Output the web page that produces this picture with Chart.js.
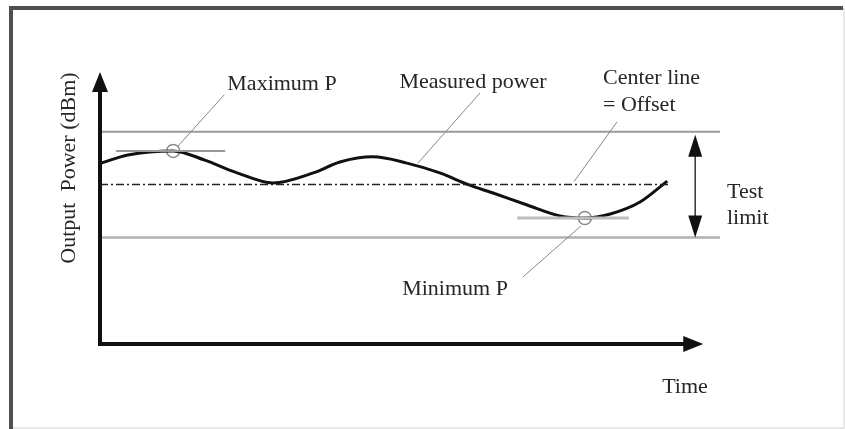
<!DOCTYPE html>
<html lang="en">
<head>
    <meta charset="UTF-8">
    <title>Output power test limit</title>
    <script src="https://cdn.jsdelivr.net/npm/chart.js@4.4.0/dist/chart.umd.min.js"></script>
    <style>
        body { margin: 0; background: #fff; }
        canvas { display: block; }
    </style>
</head>
<body>
    <canvas id="myChart" width="845" height="429"></canvas>
    <script>
        // sketch values, arbitrary units
        var timeValues  = [0.02, 0.45, 1.18, 1.69, 2.18, 2.79, 3.44, 3.87, 4.40, 4.95, 5.48, 5.95, 6.34, 6.89, 7.42, 7.82, 8.23, 8.71, 9.15];
        var powerValues = [6.65, 6.95, 7.10, 6.76, 6.32, 5.92, 6.29, 6.69, 6.88, 6.65, 6.29, 5.85, 5.55, 5.11, 4.71, 4.63, 4.78, 5.22, 5.99];
        var upperLimit = 7.8;
        var lowerLimit = 3.92;
        var centerEnd = 9.21;
        var maxTangent = [0.26, 2.02];
        var minTangent = [6.73, 8.53];
        var limitArrowX = 9.6;
        var axisEndX = 9.73;

        var centerLine = (upperLimit + lowerLimit) / 2;
        var maxIdx = powerValues.indexOf(Math.max.apply(null, powerValues));
        var minIdx = powerValues.indexOf(Math.min.apply(null, powerValues));
        var maxPt = {x: timeValues[maxIdx], y: powerValues[maxIdx]};
        var minPt = {x: timeValues[minIdx], y: powerValues[minIdx]};

        var measured = [];
        for (var i = 0; i < timeValues.length; i++) {
            measured.push({x: timeValues[i], y: powerValues[i]});
        }

        function arrowHead(ctx, x, y, dx, dy, len, half) {
            // tip at (x,y), pointing along (dx,dy)
            var bx = x - dx * len, by = y - dy * len;
            ctx.beginPath();
            ctx.moveTo(x, y);
            ctx.lineTo(bx - dy * half, by + dx * half);
            ctx.lineTo(bx + dy * half, by - dx * half);
            ctx.closePath();
            ctx.fill();
        }

        function line(ctx, x1, y1, x2, y2) {
            ctx.beginPath();
            ctx.moveTo(x1, y1);
            ctx.lineTo(x2, y2);
            ctx.stroke();
        }

        var frame = {
            id: 'frame',
            beforeDraw: function(chart) {
                var ctx = chart.ctx;
                ctx.save();
                ctx.fillStyle = '#fff';
                ctx.fillRect(0, 0, chart.width, chart.height);
                ctx.strokeStyle = '#d0d0d0';
                ctx.lineWidth = 1;
                ctx.strokeRect(10.5, 8.5, chart.width - 11.5, chart.height - 9.5);
                ctx.strokeStyle = '#505050';
                ctx.lineWidth = 4;
                ctx.beginPath();
                ctx.moveTo(11, chart.height);
                ctx.lineTo(11, 8);
                ctx.lineTo(chart.width - 2, 8);
                ctx.stroke();
                ctx.restore();
            },
            afterDatasetsDraw: function(chart) {
                var ctx = chart.ctx;
                var sx = chart.scales.x, sy = chart.scales.y;
                var a = chart.chartArea;
                ctx.save();

                // axes with arrow heads
                ctx.strokeStyle = '#111';
                ctx.fillStyle = '#111';
                ctx.lineWidth = 4;
                var xEnd = sx.getPixelForValue(axisEndX);
                line(ctx, a.left, a.bottom, xEnd - 12, a.bottom);
                line(ctx, a.left, a.bottom + 2, a.left, a.top + 12);
                arrowHead(ctx, xEnd, a.bottom, 1, 0, 20, 8);
                arrowHead(ctx, a.left, a.top, 0, -1, 20, 8);

                // test limit double arrow
                var ax = sx.getPixelForValue(limitArrowX);
                var yu = sy.getPixelForValue(upperLimit), yl = sy.getPixelForValue(lowerLimit);
                ctx.strokeStyle = '#333';
                ctx.fillStyle = '#111';
                ctx.lineWidth = 1.5;
                line(ctx, ax, yu + 10, ax, yl - 10);
                arrowHead(ctx, ax, yu + 3, 0, -1, 22, 7);
                arrowHead(ctx, ax, yl, 0, 1, 22, 7);

                // leader lines
                ctx.strokeStyle = '#888';
                ctx.lineWidth = 1;
                var mx = sx.getPixelForValue(maxPt.x), my = sy.getPixelForValue(maxPt.y);
                var nx = sx.getPixelForValue(minPt.x), ny = sy.getPixelForValue(minPt.y);
                line(ctx, mx + 5, my - 5, mx + 51, my - 56);
                line(ctx, 418, 163, 480, 93);
                line(ctx, 574, sy.getPixelForValue(centerLine) - 3, 617, 122);
                line(ctx, nx - 4, ny + 8, nx - 62, ny + 59);

                // labels
                ctx.fillStyle = '#262626';
                ctx.font = '22px "Liberation Serif", serif';
                ctx.textBaseline = 'middle';
                ctx.textAlign = 'center';
                ctx.fillText('Maximum P', 282, 84);
                ctx.fillText('Measured power', 473, 82);
                ctx.fillText('Minimum P', 455, 289);
                ctx.fillText('Time', 685, 387);
                ctx.textAlign = 'left';
                ctx.fillText('Center line', 603, 78);
                ctx.fillText('= Offset', 603, 105);
                ctx.fillText('Test', 727, 192);
                ctx.fillText('limit', 727, 218);

                ctx.translate(69, 168);
                ctx.rotate(-Math.PI / 2);
                ctx.textAlign = 'center';
                ctx.fillText('Output  Power (dBm)', 0, 0);
                ctx.restore();
            }
        };

        var chart = new Chart(document.getElementById('myChart'), {
            type: 'line',
            data: {
                datasets: [
                    {
                        label: 'Upper limit',
                        data: [{x: 0, y: upperLimit}, {x: 10, y: upperLimit}],
                        borderColor: '#9a9a9a', borderWidth: 2, pointRadius: 0
                    },
                    {
                        label: 'Lower limit',
                        data: [{x: 0, y: lowerLimit}, {x: 10, y: lowerLimit}],
                        borderColor: '#b0b0b0', borderWidth: 2.5, pointRadius: 0
                    },
                    {
                        label: 'Center line',
                        data: [{x: 0, y: centerLine}, {x: centerEnd, y: centerLine}],
                        borderColor: '#222', borderWidth: 1.5, borderDash: [8, 3, 2, 3], pointRadius: 0
                    },
                    {
                        label: 'Max tangent',
                        data: [{x: maxTangent[0], y: maxPt.y}, {x: maxTangent[1], y: maxPt.y}],
                        borderColor: '#999', borderWidth: 2, pointRadius: 0
                    },
                    {
                        label: 'Min tangent',
                        data: [{x: minTangent[0], y: minPt.y}, {x: minTangent[1], y: minPt.y}],
                        borderColor: '#bdbdbd', borderWidth: 3, pointRadius: 0
                    },
                    {
                        label: 'Measured power',
                        data: measured,
                        borderColor: '#111', borderWidth: 3, pointRadius: 0,
                        tension: 0.4, cubicInterpolationMode: 'monotone'
                    },
                    {
                        label: 'Extremes',
                        data: [maxPt, minPt],
                        showLine: false,
                        pointRadius: 6.5, pointBackgroundColor: '#fff',
                        pointBorderColor: '#8a8a8a', pointBorderWidth: 1.5
                    }
                ]
            },
            options: {
                responsive: false,
                devicePixelRatio: 1,
                animation: false,
                layout: {padding: {left: 100, right: 125, top: 72, bottom: 85}},
                scales: {
                    x: {type: 'linear', min: 0, max: 10, display: false},
                    y: {type: 'linear', min: 0, max: 10, display: false}
                },
                elements: {line: {clip: false}},
                plugins: {
                    legend: {display: false},
                    tooltip: {enabled: false}
                }
            },
            plugins: [frame]
        });
    </script>
</body>
</html>
